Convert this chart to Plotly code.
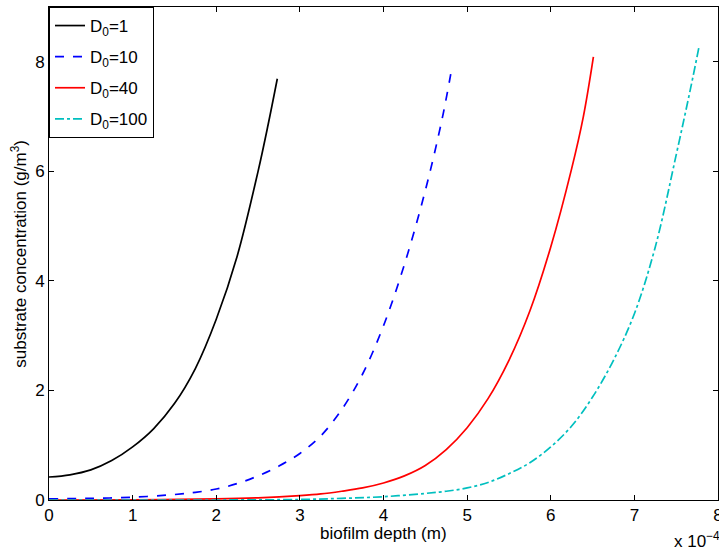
import plotly.graph_objects as go

# x in units of 1e-4 m, y in g/m^3
x_d1 = [0.0, 0.25, 0.5, 0.75, 1.0, 1.25, 1.5, 1.75, 2.0, 2.25, 2.5, 2.62, 2.73]
y_d1 = [0.42, 0.46, 0.55, 0.72, 0.97, 1.30, 1.76, 2.40, 3.30, 4.45, 6.00, 6.85, 7.69]

x_d10 = [0.0, 0.5, 1.0, 1.5, 1.75, 2.0, 2.25, 2.5, 2.75, 3.0, 3.25, 3.5, 3.75, 4.0, 4.25, 4.5, 4.7, 4.82]
y_d10 = [0.02, 0.03, 0.05, 0.10, 0.14, 0.20, 0.30, 0.44, 0.62, 0.85, 1.17, 1.65, 2.30, 3.18, 4.30, 5.65, 6.95, 7.91]

x_d40 = [0.0, 1.0, 2.0, 2.5, 3.0, 3.25, 3.5, 3.75, 4.0, 4.25, 4.5, 4.75, 5.0, 5.25, 5.5, 5.75, 6.0, 6.25, 6.39, 6.51]
y_d40 = [0.0, 0.005, 0.02, 0.04, 0.08, 0.11, 0.16, 0.22, 0.31, 0.44, 0.63, 0.92, 1.32, 1.85, 2.55, 3.45, 4.62, 6.05, 7.00, 8.09]

x_d100 = [0.0, 2.0, 3.0, 3.5, 4.0, 4.5, 4.75, 5.0, 5.25, 5.5, 5.75, 6.0, 6.25, 6.5, 6.75, 7.0, 7.25, 7.5, 7.67, 7.77]
y_d100 = [0.0, 0.0, 0.01, 0.03, 0.06, 0.12, 0.16, 0.22, 0.32, 0.48, 0.68, 0.97, 1.35, 1.88, 2.55, 3.40, 4.62, 6.30, 7.50, 8.25]

labels = ["D<sub>0</sub>=1", "D<sub>0</sub>=10", "D<sub>0</sub>=40", "D<sub>0</sub>=100"]
x_ticks = [0, 1, 2, 3, 4, 5, 6, 7, 8]
y_ticks = [0, 2, 4, 6, 8]

FONT = "Liberation Sans, Arial, Helvetica, sans-serif"
FS = 17

series = [
    (x_d1, y_d1, "#000000", "solid"),
    (x_d10, y_d10, "#0000ff", "dash"),
    (x_d40, y_d40, "#ff0000", "solid"),
    (x_d100, y_d100, "#00bfbf", "dashdot"),
]

fig = go.Figure()
for i, (xs, ys, col, dash) in enumerate(series):
    fig.add_trace(go.Scatter(
        x=xs, y=ys, mode="lines", name=labels[i],
        line=dict(color=col, width=1.7, dash=dash, shape="spline", smoothing=1.0),
        legendgroup=str(i),
    ))

axis_common = dict(
    showline=True, linecolor="black", linewidth=1, mirror="ticks",
    ticks="inside", ticklen=5, tickcolor="black", tickwidth=1,
    showgrid=False, zeroline=False, ticklabeloverflow="allow",
    tickfont=dict(family=FONT, size=FS, color="black"),
)

fig.update_xaxes(range=[0, 8], tickvals=x_ticks, ticktext=[str(v) for v in x_ticks], **axis_common)
fig.update_yaxes(range=[0, 9], tickvals=y_ticks, ticktext=[str(v) for v in y_ticks], **axis_common)

fig.update_layout(
    width=719, height=551,
    margin=dict(l=49, r=1, t=7, b=51, autoexpand=False),
    paper_bgcolor="white", plot_bgcolor="white",
    font=dict(family=FONT, size=FS, color="black"),
    showlegend=True,
    legend=dict(
        x=0, y=1, xanchor="left", yanchor="top",
        bgcolor="white", bordercolor="black", borderwidth=1,
        font=dict(family=FONT, size=FS, color="black"),
        tracegroupgap=6, itemwidth=30,
    ),
    annotations=[
        dict(text="biofilm depth (m)", xref="paper", yref="paper", x=0.5, y=-0.068,
             xanchor="center", yanchor="middle", showarrow=False,
             font=dict(family=FONT, size=FS, color="black")),
        dict(text="substrate concentration (g/m<sup>3</sup>)", xref="paper", yref="paper",
             x=-0.046, y=0.5, xanchor="center", yanchor="middle", textangle=-90,
             showarrow=False, font=dict(family=FONT, size=FS, color="black")),
        dict(text="x 10<sup>−4</sup>", xref="paper", yref="paper", x=0.931, y=-0.082,
             xanchor="left", yanchor="middle", showarrow=False,
             font=dict(family=FONT, size=FS, color="black")),
    ],
)

fig.write_html("out.html", config={"displayModeBar": False},
               post_script="document.body.style.margin='0';document.body.style.overflow='hidden';")
